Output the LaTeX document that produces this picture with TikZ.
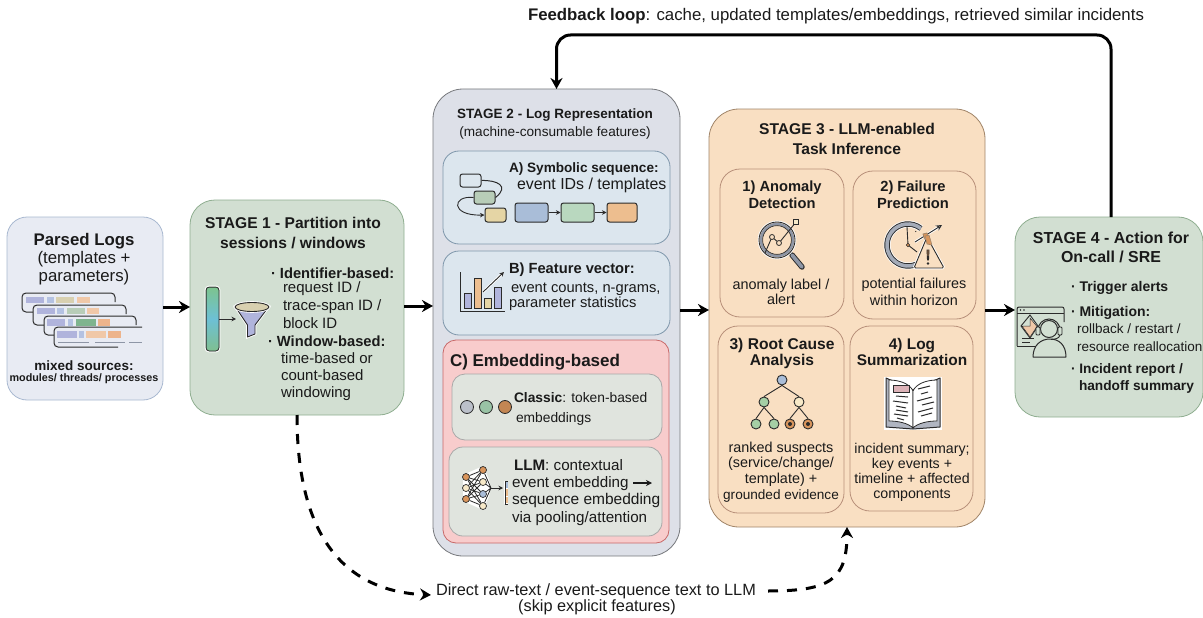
\documentclass[tikz,border=0pt]{standalone}
\usepackage{fontspec}
\setmainfont{Liberation Sans}
\usetikzlibrary{arrows.meta,calc}
\definecolor{ink}{HTML}{1A1A1A}
\definecolor{dk}{HTML}{2B2B2B}
\definecolor{lav}{HTML}{B0B4DC}
\definecolor{lavb}{HTML}{B4C2E2}
\definecolor{khak}{HTML}{D8D0B0}
\definecolor{pch}{HTML}{F0C8A8}
\definecolor{sage}{HTML}{B8CDB8}
\definecolor{leaf}{HTML}{7FB48F}
\definecolor{pchd}{HTML}{EDB48C}
\definecolor{cream}{HTML}{F7E9C8}
\definecolor{orng}{HTML}{D9955C}
\definecolor{grnn}{HTML}{A5CFA5}
\definecolor{grey}{HTML}{8E96A6}
\definecolor{bluec}{HTML}{A9BDD8}
\definecolor{greenc}{HTML}{B9D8BF}
\definecolor{orangec}{HTML}{EDBE8F}
\definecolor{yel}{HTML}{E5D5A5}
\definecolor{bartop}{HTML}{7DC48E}
\definecolor{barmid}{HTML}{6DC0D5}
\definecolor{barbot}{HTML}{7FBF90}
\definecolor{plfill}{HTML}{E8EBF3}
\definecolor{plline}{HTML}{A8B8D0}
\definecolor{sgfill}{HTML}{D2DFD2}
\definecolor{sgline}{HTML}{8FAE90}
\definecolor{s2fill}{HTML}{DDE0E8}
\definecolor{s2line}{HTML}{76787C}
\definecolor{abfill}{HTML}{DCE6EE}
\definecolor{abline}{HTML}{7F97AB}
\definecolor{cfill}{HTML}{F8CCCC}
\definecolor{cline}{HTML}{C86868}
\definecolor{clfill}{HTML}{E0E4DE}
\definecolor{clline}{HTML}{A8A8A8}
\definecolor{s3fill}{HTML}{F9DFC2}
\definecolor{s3line}{HTML}{A08468}
\definecolor{tline}{HTML}{B8907A}
\tikzset{
  box/.style={draw,inner sep=0pt,outer sep=0pt,line width=0.8pt},
  txt/.style={inner sep=0pt,outer sep=0pt,text=ink},
  flowarrow/.style={line width=3pt,draw=black,-{Stealth[length=11pt,width=12pt]}},
  dasharrow/.style={line width=3pt,draw=black,dash pattern=on 10pt off 9pt,-{Stealth[length=11pt,width=12pt]}},
  thinarrow/.style={line width=0.9pt,draw=dk,-{Stealth[length=4.5pt,width=4.5pt]}},
  ico/.style={draw=dk,line width=0.9pt,line join=round},
  halo/.style={preaction={draw=white,line width=2.6pt}},
  smallbox/.style={draw=dk,line width=1pt,rounded corners=2.5pt},
  nnode/.style={circle,draw=dk,line width=0.7pt,inner sep=0pt,minimum size=7pt},
  treen/.style={circle,draw=dk,line width=0.9pt,inner sep=0pt,minimum size=10pt},
}
\newcommand{\bx}[6]{%
  \pgfmathsetmacro{\bw}{#4-#2}\pgfmathsetmacro{\bh}{#5-#3}%
  \pgfmathsetmacro{\bcx}{(#2+#4)/2}\pgfmathsetmacro{\bcy}{(#3+#5)/2}%
  \node[box,minimum width=\bw pt,minimum height=\bh pt,#6] (#1) at (\bcx,\bcy) {};}
\newcommand{\tl}[5]{\node[txt,anchor=base west,font=\fontsize{#4}{#4}\selectfont] (#1) at (#2,#3) {#5};}
\newcommand{\tc}[5]{\node[txt,anchor=base,font=\fontsize{#4}{#4}\selectfont] (#1) at (#2,#3) {#5};}
\newcommand{\card}[4]{% x1,y1,x2,y2
  \fill[plfill,rounded corners=4pt] (#1,#2) rectangle (#3,#4);
  \draw[dk,line width=1pt,rounded corners=4pt] (#1+12,#4) -- (#1,#4) -- (#1,#2) -- (#3,#2) -- (#3,#2+9);}
\newcommand{\chip}[5]{\fill[#1] (#2,#3) rectangle (#4,#5);}
\begin{document}
\begin{tikzpicture}[x=1pt,y=-1pt]
\useasboundingbox (0,0) rectangle (1203,618);
% ---- main boxes
\bx{parsed}{7}{217}{163}{400}{fill=plfill,draw=plline,rounded corners=20pt}
\bx{s1}{190}{200}{404}{415}{fill=sgfill,draw=sgline,rounded corners=25pt}
\bx{s2}{433}{89}{680}{556}{fill=s2fill,draw=s2line,rounded corners=30pt}
\bx{sa}{443}{151}{670}{244}{fill=abfill,draw=abline,rounded corners=16pt}
\bx{sb}{443}{251}{670}{335}{fill=abfill,draw=abline,rounded corners=16pt}
\bx{sc}{443}{340}{669}{543}{fill=cfill,draw=cline,rounded corners=13pt}
\bx{classic}{452}{374}{662}{440}{fill=clfill,draw=clline,rounded corners=13pt}
\bx{llm}{449}{447}{662}{536}{fill=clfill,draw=clline,rounded corners=14pt}
\bx{s3}{709}{109}{985}{527}{fill=s3fill,draw=s3line,rounded corners=30pt}
\bx{t1}{720}{169}{844}{317}{fill=s3fill,draw=tline,rounded corners=20pt}
\bx{t2}{853}{171}{976}{319}{fill=s3fill,draw=tline,rounded corners=20pt}
\bx{t3}{718}{326}{844}{513}{fill=s3fill,draw=tline,rounded corners=20pt}
\bx{t4}{850}{326}{973}{511}{fill=s3fill,draw=tline,rounded corners=20pt}
\bx{s4}{1015}{217}{1203}{417}{fill=sgfill,draw=sgline,rounded corners=25pt}

% ---- connectors
\coordinate (j1) at (0,307);
\coordinate (j2) at (0,306);
\coordinate (j3) at (0,310);
\draw[flowarrow] (parsed.east |- j1) -- (s1.west |- j1);
\draw[flowarrow] (s1.east |- j2) -- (s2.west |- j2);
\draw[flowarrow] (s2.east |- j3) -- (s3.west |- j3);
\draw[flowarrow] (s3.east |- j3) -- (s4.west |- j3);
\coordinate (fbs) at (1111,217);
\coordinate (fbt) at (0,35);
\draw[flowarrow,rounded corners=14pt] (fbs) -- (fbs |- fbt) -- (s2.north |- fbt) -- (s2.north);
\tc{fbl}{836}{21}{16.8}{\textbf{Feedback loop}: cache, updated templates/embeddings, retrieved similar incidents}
\tc{dir}{596}{595}{16.3}{Direct raw-text / event-sequence text to LLM}
\tc{dirb}{597}{611}{16.3}{(skip explicit features)}
\coordinate (dsA) at (297,415);
\coordinate (dsB) at (768,591);
\coordinate (dsE) at (431,595);
\coordinate (dsF) at (847,527);
\draw[dasharrow] (dsA) .. controls (297,500) and (320,590) .. (dsE);
\draw[dasharrow] (dsB) .. controls (830,591) and (847,580) .. (dsF);

% ---- Parsed logs
\tc{pl1}{84}{245}{16.8}{\textbf{Parsed Logs}}
\tc{pl2}{84}{263}{16.8}{(templates +}
\tc{pl3}{84}{281}{16.8}{parameters)}
\tc{pl4}{84}{370}{13.5}{\textbf{mixed sources:}}
\tc{pl5}{84}{381}{10.8}{\textbf{modules/ threads/ processes}}
\card{22}{293}{115}{312}
\chip{lav}{26}{297}{44}{303}\chip{lavb}{47}{297}{54}{303}\chip{khak}{56}{297}{74}{303}\chip{pch}{77}{297}{90}{303}
\card{33}{305}{126}{325}
\chip{lav}{37}{308}{55}{314}\chip{lavb}{57}{308}{64}{314}\chip{sage}{67}{308}{85}{314}\chip{pch}{87}{308}{99}{314}
\card{44}{316}{136}{335}
\chip{lav}{47}{319}{65}{326}\chip{lavb}{68}{319}{73}{326}\chip{leaf}{76}{319}{96}{326}\chip{pchd}{98}{319}{110}{326}
\fill[plfill,rounded corners=4pt] (54,327) rectangle (142,347);
\draw[dk,line width=1pt,rounded corners=4pt] (118,347) -- (54,347) -- (54,327) -- (142,327);
\chip{lav}{57}{331}{77}{338}\chip{lavb}{79}{331}{84}{338}\chip{pch}{86}{331}{106}{338}\chip{pchd}{108}{331}{121}{338}
\draw[grey,line width=1pt] (58,342.5) -- (89,342.5) (95,342.5) -- (125,342.5) (129,342.5) -- (142,342.5);

% ---- Stage 1
\tc{s1a}{293}{228}{15.6}{\textbf{STAGE 1 - Partition into}}
\tc{s1b}{293}{248}{15.6}{\textbf{sessions / windows}}
\tl{s1c}{271}{278}{14.7}{\textbf{· Identifier-based:}}
\tl{s1d}{283}{292}{15}{request ID /}
\tl{s1e}{283}{310}{15}{trace-span ID /}
\tl{s1f}{283}{328}{15}{block ID}
\tl{s1g}{268}{346}{14.7}{\textbf{· Window-based:}}
\tl{s1h}{281}{363}{15}{time-based or}
\tl{s1i}{281}{380}{15}{count-based}
\tl{s1j}{281}{397}{15}{windowing}
\shade[rounded corners=3pt,top color=bartop,bottom color=barbot,middle color=barmid] (206,287) rectangle (219,351);
\draw[dk,line width=1pt,rounded corners=3pt] (206,287) rectangle (219,351);
\draw[white,line width=0.8pt,rounded corners=4pt] (205,286) rectangle (220,352);
\coordinate (fa) at (219,319); \coordinate (fb) at (236,319);
\draw[thinarrow] (fa) -- (fb);
\draw[ico,halo,fill=lav] (235.5,307) -- (247.5,325) -- (247.5,337) -- (255,334) -- (255,325) -- (268.5,307) -- cycle;
\draw[ico,halo,fill=khak] (252,307) ellipse (17 and 4.5);

% ---- Stage 2
\tc{s2a}{555}{118}{13.5}{\textbf{STAGE 2 - Log Representation}}
\tc{s2b}{555}{136}{13.6}{(machine-consumable features)}
\tl{sa1}{509}{172}{13.6}{\textbf{A) Symbolic sequence:}}
\tl{sa2}{517}{189}{15.9}{event IDs / templates}
\node[smallbox,fill=bluec,minimum width=33pt,minimum height=19pt,inner sep=0pt] (fl1) at (531.5,212.5) {};
\node[smallbox,fill=greenc,minimum width=33pt,minimum height=19pt,inner sep=0pt] (fl2) at (577.5,212.5) {};
\node[smallbox,fill=orangec,minimum width=30pt,minimum height=19pt,inner sep=0pt] (fl3) at (622,212.5) {};
\draw[thinarrow] (fl1) -- (fl2);
\draw[thinarrow] (fl2) -- (fl3);
\node[smallbox,fill=abfill,minimum width=21pt,minimum height=13pt,inner sep=0pt] (mf1) at (470.5,180.5) {};
\node[smallbox,fill=sage,minimum width=21pt,minimum height=13pt,inner sep=0pt] (mf2) at (484.5,197.5) {};
\node[smallbox,fill=yel,minimum width=21pt,minimum height=14pt,inner sep=0pt] (mf3) at (495.5,215) {};
\draw[dk,line width=1pt] (mf1.east) .. controls (497,180) and (510,186) .. (mf2.east);
\draw[thinarrow] (mf2.west) .. controls (452,195) and (450,216) .. (mf3.west);
\tl{sb1}{509}{273}{14.7}{\textbf{B) Feature vector:}}
\tl{sb2}{511}{292}{14.7}{event counts, n-grams,}
\tl{sb3}{509}{307}{14.7}{parameter statistics}
\draw[dk,line width=1pt] (460,272) -- (460,311) -- (505,311);
\draw[dk,line width=.8pt,fill=lav] (464,293) rectangle (471,308);
\draw[dk,line width=.8pt,fill=orangec] (474,278) rectangle (481,308);
\draw[dk,line width=.8pt,fill=yel] (484,298) rectangle (491,308);
\draw[dk,line width=.8pt,fill=lav] (494,287) rectangle (501,308);
\draw[thinarrow,halo] (483,292) -- (504,272);
\tl{sc1}{450}{366}{17}{\textbf{C) Embedding-based}}
\node[circle,draw=dk,line width=.8pt,fill=grey!60,minimum size=13pt,inner sep=0pt] (c1) at (467,407) {};
\node[circle,draw=dk,line width=.8pt,fill=leaf!80,minimum size=13pt,inner sep=0pt] (c2) at (486,407) {};
\node[circle,draw=dk,line width=.8pt,fill=orng!90!black,minimum size=13pt,inner sep=0pt] (c3) at (505,407) {};
\tl{cl1}{514}{402}{13.8}{\textbf{Classic}: token-based}
\tl{cl2}{516}{422}{13.8}{embeddings}
% nn icon
\fill[white,rounded corners=4pt] (463,475) -- (483,466) -- (490,482) -- (490,494) -- (483,510) -- (463,501) -- cycle;
\node[nnode,fill=orng] (n1) at (466,477) {};
\node[nnode,fill=cream] (n2) at (466,488) {};
\node[nnode,fill=orng] (n3) at (466,499) {};
\node[nnode,fill=orng] (m1) at (483,470) {};
\node[nnode,fill=cream] (m2) at (483,482) {};
\node[nnode,fill=bluec] (m3) at (483,494) {};
\node[nnode,fill=cream] (m4) at (483,506) {};
\foreach \a in {n1,n2,n3}\foreach \b in {m1,m2,m3,m4}{\draw[dk,line width=.8pt] (\a) -- (\b);}
\coordinate (nnt) at (503,488); \coordinate (nns) at (491,488);
\draw[dk,line width=.8pt] (m1) -- (nns) (m2) -- (nns) (m3) -- (nns) (m4) -- (nns);
\draw[thinarrow] (nns) -- (nnt);
\fill[white] (504,481) rectangle (508,504);
\chip{bluec}{505}{482}{508}{488}\chip{orangec}{505}{489}{508}{496}\chip{orangec}{505}{497}{508}{503}
\draw[dk,line width=.7pt] (508,481) -- (505,481) -- (505,504) -- (508,504);
\tl{ll1}{514}{470}{15.2}{\textbf{LLM}: contextual}
\tl{ll2}{512}{487}{15.2}{event embedding}
\coordinate (lla) at (633,483); \coordinate (llb) at (652,483);
\draw[line width=1.1pt,draw=ink,-{Stealth[length=6pt,width=6pt]}] (lla) -- (llb);
\tl{ll3}{512}{504}{15.5}{sequence embedding}
\tl{ll4}{512}{522}{15.2}{via pooling/attention}

% ---- Stage 3
\tc{s3a}{847}{134}{15.6}{\textbf{STAGE 3 - LLM-enabled}}
\tc{s3b}{847}{154}{15.6}{\textbf{Task Inference}}
\tc{t1a}{782}{191}{14.7}{\textbf{1) Anomaly}}
\tc{t1b}{782}{208}{14.7}{\textbf{Detection}}
\tc{t1c}{781}{289}{14.4}{anomaly label /}
\tc{t1d}{781}{304}{14.4}{alert}
\tc{t2a}{913}{191}{14.7}{\textbf{2) Failure}}
\tc{t2b}{913}{208}{14.7}{\textbf{Prediction}}
\tc{t2c}{914}{288}{14.4}{potential failures}
\tc{t2d}{914}{305}{14.4}{within horizon}
\tc{t3a}{782}{349}{15.6}{\textbf{3) Root Cause}}
\tc{t3b}{782}{365}{15.6}{\textbf{Analysis}}
\tc{t3c}{781}{452}{14.4}{ranked suspects}
\tc{t3d}{781}{467}{14.4}{(service/change/}
\tc{t3e}{781}{483}{14.4}{template) +}
\tc{t3f}{781}{499}{13.6}{grounded evidence}
\tc{t4a}{912}{349}{15.4}{\textbf{4) Log}}
\tc{t4b}{912}{365}{15.4}{\textbf{Summarization}}
\tc{t4c}{912}{453}{14.2}{incident summary;}
\tc{t4d}{912}{468}{14.2}{key events +}
\tc{t4e}{912}{483}{14.2}{timeline + affected}
\tc{t4f}{912}{498}{14.2}{components}
% magnifier
\draw[white,line width=2.5pt] (791,254) -- (802,267);
\draw[dk,line width=5.5pt,line cap=round] (792,255) -- (802,267);
\draw[grey,line width=3.6pt,line cap=round] (792,255) -- (802,267);
\draw[ico,halo,fill=s3fill] (777,240) circle (18);
\draw[grey,line width=2.5pt] (777,240) circle (16);
\draw[dk,line width=.7pt] (777,240) circle (14.4);
\draw[dk,line width=.9pt] (765,253) -- (772,237) -- (779,243) -- (796,222);
\node[circle,draw=dk,line width=.8pt,fill=s3fill,minimum size=5pt,inner sep=0pt] (mg1) at (772,237) {};
\node[circle,draw=dk,line width=.8pt,fill=s3fill,minimum size=5pt,inner sep=0pt] (mg2) at (779,243) {};
\node[draw=dk,line width=.8pt,fill=cream,minimum size=5pt,inner sep=0pt] (mg3) at (796,222) {};
% clock
\draw[white,line width=7pt] (908,245) ++(-52:21) arc (-52:-300:21);
\draw[dk,line width=5.4pt] (908,245) ++(-52:21) arc (-52:-300:21);
\draw[grey!80,line width=3.6pt] (908,245) ++(-52:21) arc (-52:-300:21);
\foreach \a in {-60,-30,...,-300}{\fill[dk] (908,245) ++(\a:15.5) circle (.6);}
\draw[dk,line width=.9pt] (907,227) -- (908,245) -- (917,252);
\fill[orng,draw=dk,line width=.5pt] (908,245) circle (1.8);
\draw[dk,line width=.9pt,-{Stealth[length=6pt,width=6pt,open]},halo] (915,242) -- (942,225);
\draw[s3line,line width=.8pt,fill=orng] (923,234) -- (927,233) -- (932,247) -- (927,247) -- cycle;
\draw[ico,fill=s3fill,rounded corners=1.5pt,halo] (927,237) -- (944,268) -- (914,268) -- cycle;
\draw[s3line,line width=.6pt,fill=orng] (925,236) -- (929,235) -- (932,245) -- (927,244) -- cycle;
\draw[dk,line width=.9pt,fill=orng] (927,250) -- (929,250) -- (928.5,260) -- (927.5,260) -- cycle;
\fill[dk] (928,263.5) circle (1.4);
% tree
\node[treen,fill=bluec] (r0) at (782,380) {};
\node[treen,fill=grnn] (r1) at (764,402) {};
\node[treen,fill=cream] (r2) at (799,402) {};
\node[treen,fill=grnn] (r3) at (756,424) {};
\node[treen,fill=grnn] (r4) at (774,424) {};
\node[treen,fill=orng] (r5) at (790,424) {};
\node[treen,fill=orng] (r6) at (808,424) {};
\draw[dk,line width=.9pt] (r0.south) -- (r1.north);
\draw[dk,line width=.9pt] (r0.south) -- (r2.north);
\draw[dk,line width=.9pt] (r1.south) -- (r3.north) (r1.south) -- (r4.north) (r2.south) -- (r5.north) (r2.south) -- (r6.north);
\fill[dk] (790,424) circle (2);\fill[dk] (808,424) circle (2);
% book
\fill[white] (884,377) rectangle (942,430);
\draw[ico,fill=grey!70,line width=1pt] (886,378) -- (886,427) -- (913,429) -- (940,427) -- (940,378) -- (913,390) -- cycle;
\draw[dk,line width=.8pt,fill=white] (889,380) .. controls (900,380) and (910,384) .. (913,391) -- (913,428) .. controls (908,423) and (898,421) .. (889,421) -- cycle;
\draw[dk,line width=.8pt,fill=white] (937,380) .. controls (926,380) and (916,384) .. (913,391) -- (913,428) .. controls (918,423) and (928,421) .. (937,421) -- cycle;
\draw[dk,line width=.6pt,fill=pink!70!grey] (893,385) rectangle (909,392);
\draw[dk,line width=1pt] (896,396) -- (908,397) (893,401) -- (908,403) (896,406) -- (906,408) (896,410) -- (908,412) (894,414) -- (908,416) (897,418) -- (904,420);
\draw[dk,line width=1pt] (918,389) -- (930,386) (921,394) -- (928,392) (917,401) -- (932,397) (922,405) -- (934,402) (918,412) -- (933,408) (921,416) -- (932,413);
% ---- Stage 4
\tc{s4a}{1111}{243}{15.9}{\textbf{STAGE 4 - Action for}}
\tc{s4b}{1111}{262}{15.9}{\textbf{On-call / SRE}}
\tl{s4c}{1071}{291}{14}{\textbf{· Trigger alerts}}
\tl{s4d}{1071}{316}{14}{\textbf{· Mitigation:}}
\tl{s4e}{1077}{333}{13.5}{rollback / restart /}
\tl{s4f}{1077}{351}{13.5}{resource reallocation}
\tl{s4g}{1071}{373}{13.7}{\textbf{· Incident report /}}
\tl{s4h}{1079}{390}{13.7}{\textbf{handoff summary}}
\draw[dk,line width=1pt,rounded corners=2pt] (1017,346) -- (1017,307) -- (1064,307) -- (1064,322);
\draw[dk,line width=1pt] (1017,313) -- (1064,313) (1017,346) -- (1036,346);
\fill[dk] (1020.5,310) circle (.9) (1024,310) circle (.9);
\draw[dk,line width=.9pt,fill=sgfill] (1030,315) -- (1038,326) -- (1030,338) -- (1021,326) -- cycle;
\fill[pch,draw=dk,line width=.5pt] (1022,326) -- (1030,326) -- (1030,318) -- (1037,326.5) -- (1030,337) -- cycle;
\draw[dk,line width=1pt] (1022,338) -- (1034,338) (1022,342) -- (1030,342);
\draw[ico,fill=sgfill,line width=1pt] (1033,357) .. controls (1033,345) and (1041,339) .. (1050,339) .. controls (1059,339) and (1066,345) .. (1066,357) -- cycle;
\draw[ico,fill=sgfill,line width=1pt] (1049,329) circle (8.5);
\draw[dk,line width=1pt] (1038,330) arc (180:360:11);
\draw[ico,fill=sgfill,rounded corners=1pt] (1036,327) rectangle (1040,335);
\draw[ico,fill=sgfill,rounded corners=1pt] (1058,327) rectangle (1062,335);
\draw[dk,line width=.9pt] (1060,335) .. controls (1059,339) and (1055,339) .. (1051,339.5);
\end{tikzpicture}
\end{document}
